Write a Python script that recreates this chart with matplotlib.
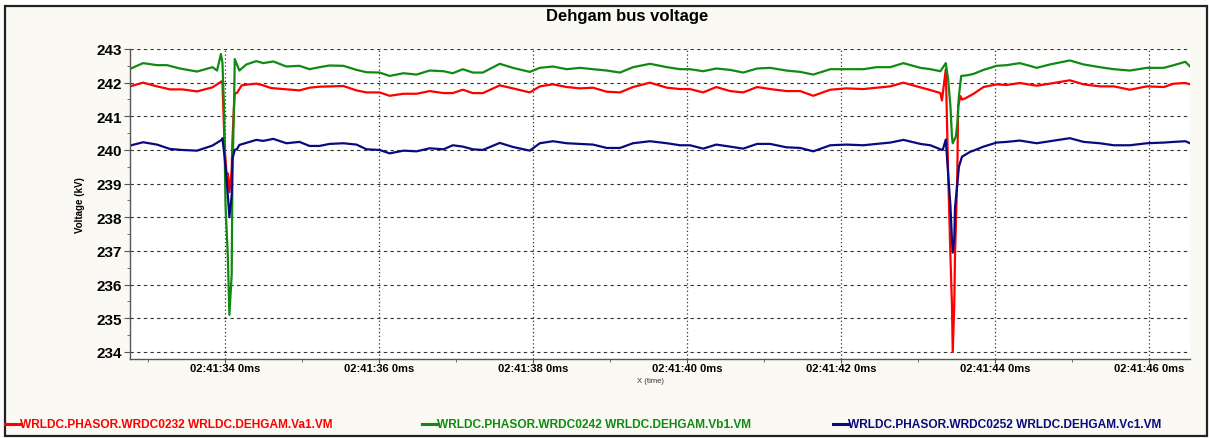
import numpy as np
import matplotlib
matplotlib.use("Agg")
import matplotlib.pyplot as plt
from matplotlib.ticker import MultipleLocator, FuncFormatter
from matplotlib.patches import Rectangle
from matplotlib.lines import Line2D

plt.rcParams['font.family'] = ['Liberation Sans', 'DejaVu Sans']

# seconds after 02:41:00, voltage in kV
t_va = [32.77, 32.94, 33.12, 33.29, 33.45, 33.64, 33.84, 33.96, 33.97, 34.00, 34.03, 34.04,
        34.06, 34.09, 34.10, 34.12, 34.13, 34.16, 34.22, 34.32, 34.41, 34.50, 34.60, 34.97,
        35.10, 35.23, 35.54, 35.71, 35.84, 36.01, 36.14, 36.32, 36.49, 36.66, 36.84, 36.96,
        37.09, 37.22, 37.35, 37.57, 37.74, 37.96, 38.09, 38.26, 38.44, 38.61, 38.78, 38.96,
        39.13, 39.30, 39.52, 39.74, 39.91, 40.04, 40.21, 40.38, 40.56, 40.73, 40.91, 41.08,
        41.29, 41.47, 41.64, 41.86, 42.07, 42.29, 42.46, 42.64, 42.81, 43.03, 43.16, 43.29,
        43.31, 43.36, 43.39, 43.42, 43.44, 43.45, 43.47, 43.48, 43.51, 43.52, 43.55, 43.57,
        43.61, 43.72, 43.85, 44.02, 44.15, 44.32, 44.54, 44.71, 44.97, 45.15, 45.36, 45.54,
        45.75, 45.97, 46.19, 46.32, 46.47, 46.53]
va = [241.89, 242.00, 241.89, 241.80, 241.80, 241.74, 241.86, 242.04, 242.00, 240.00, 239.10, 239.30,
      238.75, 239.40, 240.30, 241.30, 241.67, 241.70, 241.92, 241.95, 241.97, 241.92, 241.84, 241.77,
      241.85, 241.88, 241.90, 241.77, 241.71, 241.71, 241.61, 241.67, 241.67, 241.75, 241.69, 241.69,
      241.79, 241.69, 241.69, 241.92, 241.83, 241.71, 241.89, 241.95, 241.87, 241.83, 241.85, 241.73,
      241.71, 241.87, 242.00, 241.85, 241.81, 241.81, 241.71, 241.87, 241.75, 241.71, 241.87, 241.81,
      241.75, 241.75, 241.61, 241.79, 241.83, 241.81, 241.85, 241.89, 242.00, 241.86, 241.78, 241.69,
      241.47, 242.40, 239.35, 236.85, 235.40, 234.00, 235.40, 236.90, 239.35, 241.30, 241.60, 241.50,
      241.53, 241.67, 241.87, 241.95, 241.93, 241.99, 241.91, 241.97, 242.07, 241.95, 241.89, 241.89,
      241.79, 241.89, 241.87, 241.97, 241.99, 241.95]

t_vb = [32.77, 32.94, 33.12, 33.25, 33.42, 33.64, 33.84, 33.90, 33.95, 33.97, 33.99, 34.01,
        34.04, 34.06, 34.09, 34.10, 34.12, 34.13, 34.19, 34.28, 34.41, 34.50, 34.63, 34.80,
        34.97, 35.10, 35.23, 35.36, 35.54, 35.71, 35.84, 36.01, 36.14, 36.32, 36.49, 36.66,
        36.84, 36.96, 37.09, 37.22, 37.35, 37.57, 37.74, 37.96, 38.09, 38.26, 38.44, 38.61,
        38.78, 38.96, 39.13, 39.30, 39.52, 39.74, 39.91, 40.04, 40.21, 40.38, 40.56, 40.73,
        40.91, 41.08, 41.29, 41.47, 41.64, 41.86, 42.07, 42.29, 42.46, 42.64, 42.81, 43.03,
        43.16, 43.29, 43.36, 43.39, 43.42, 43.44, 43.45, 43.49, 43.51, 43.53, 43.56, 43.64,
        43.72, 43.85, 44.02, 44.15, 44.32, 44.45, 44.54, 44.71, 44.97, 45.15, 45.36, 45.54,
        45.75, 45.97, 46.19, 46.32, 46.47, 46.53]
vb = [242.41, 242.58, 242.52, 242.52, 242.42, 242.33, 242.46, 242.36, 242.85, 242.60, 241.30, 238.35,
      236.85, 235.10, 236.30, 239.30, 241.30, 242.70, 242.36, 242.54, 242.64, 242.58, 242.63, 242.48,
      242.50, 242.40, 242.46, 242.51, 242.50, 242.38, 242.31, 242.30, 242.20, 242.28, 242.24, 242.36,
      242.34, 242.28, 242.40, 242.30, 242.30, 242.56, 242.44, 242.32, 242.44, 242.48, 242.40, 242.44,
      242.40, 242.36, 242.30, 242.46, 242.56, 242.46, 242.40, 242.40, 242.34, 242.42, 242.38, 242.30,
      242.42, 242.44, 242.36, 242.32, 242.24, 242.40, 242.40, 242.40, 242.46, 242.46, 242.58, 242.44,
      242.40, 242.34, 242.58, 242.10, 241.30, 240.40, 240.20, 240.40, 240.80, 241.60, 242.20, 242.22,
      242.26, 242.38, 242.50, 242.52, 242.58, 242.50, 242.44, 242.54, 242.66, 242.54, 242.46, 242.40,
      242.36, 242.44, 242.44, 242.52, 242.62, 242.48]

t_vc = [32.77, 32.94, 33.12, 33.29, 33.45, 33.64, 33.84, 33.96, 33.97, 34.00, 34.03, 34.04,
        34.06, 34.09, 34.10, 34.13, 34.16, 34.19, 34.41, 34.50, 34.63, 34.80, 34.97, 35.10,
        35.23, 35.36, 35.54, 35.71, 35.84, 36.01, 36.14, 36.32, 36.49, 36.66, 36.84, 36.96,
        37.09, 37.22, 37.35, 37.57, 37.74, 37.96, 38.09, 38.26, 38.44, 38.61, 38.78, 38.96,
        39.13, 39.30, 39.52, 39.74, 39.91, 40.04, 40.21, 40.38, 40.56, 40.73, 40.91, 41.08,
        41.29, 41.47, 41.64, 41.86, 42.07, 42.29, 42.46, 42.64, 42.81, 43.03, 43.16, 43.29,
        43.32, 43.36, 43.39, 43.42, 43.44, 43.45, 43.47, 43.48, 43.51, 43.53, 43.57, 43.68,
        43.72, 43.85, 44.02, 44.15, 44.32, 44.54, 44.71, 44.97, 45.15, 45.36, 45.54, 45.75,
        45.97, 46.19, 46.32, 46.47, 46.53]
vc = [240.13, 240.23, 240.16, 240.03, 240.00, 239.98, 240.13, 240.30, 240.35, 239.75, 238.95, 238.65,
      238.00, 238.65, 239.75, 240.00, 240.03, 240.15, 240.30, 240.27, 240.33, 240.20, 240.24, 240.12,
      240.12, 240.18, 240.20, 240.16, 240.02, 240.00, 239.90, 239.98, 239.96, 240.05, 240.02, 240.14,
      240.10, 240.02, 240.00, 240.21, 240.09, 239.98, 240.20, 240.26, 240.20, 240.18, 240.16, 240.06,
      240.06, 240.20, 240.26, 240.20, 240.14, 240.14, 240.04, 240.16, 240.10, 240.04, 240.18, 240.18,
      240.08, 240.06, 239.96, 240.14, 240.16, 240.14, 240.18, 240.22, 240.30, 240.18, 240.14, 240.02,
      240.00, 240.31, 239.30, 238.35, 237.35, 236.95, 237.35, 238.30, 239.00, 239.50, 239.80, 239.95,
      239.98, 240.10, 240.22, 240.24, 240.28, 240.20, 240.26, 240.35, 240.24, 240.20, 240.14, 240.14,
      240.20, 240.22, 240.24, 240.26, 240.20]

labels = ["WRLDC.PHASOR.WRDC0232 WRLDC.DEHGAM.Va1.VM",
          "WRLDC.PHASOR.WRDC0242 WRLDC.DEHGAM.Vb1.VM",
          "WRLDC.PHASOR.WRDC0252 WRLDC.DEHGAM.Vc1.VM"]
colors = ["#FF0000", "#108A10", "#0A0A80"]

W, H = 1209, 439
fig = plt.figure(figsize=(W / 100, H / 100), dpi=100, facecolor="white")

# cream panel with dark frame, kept behind the axes
fig.patches.append(Rectangle((5 / W, 2 / H), 1202 / W, 430 / H, transform=fig.transFigure,
                             facecolor="#FBF9F4", edgecolor="#222222", linewidth=1.6, zorder=-10))

ax = fig.add_axes([130 / W, 1 - 360 / H, 1060 / W, 310 / H])
ax.set_facecolor("white")

ax.plot(t_va, va, color=colors[0], lw=1.6)
ax.plot(t_vb, vb, color=colors[1], lw=1.6)
ax.plot(t_vc, vc, color=colors[2], lw=1.6)

ax.set_xlim(32.77, 46.53)
ax.set_ylim(233.79, 243)

ax.yaxis.set_major_locator(MultipleLocator(1))
ax.yaxis.set_minor_locator(MultipleLocator(0.5))
ax.xaxis.set_major_locator(MultipleLocator(2))
ax.xaxis.set_minor_locator(MultipleLocator(1))
ax.xaxis.set_major_formatter(FuncFormatter(lambda s, p: f"02:41:{int(round(s)):02d} 0ms"))
ax.yaxis.set_major_formatter(FuncFormatter(lambda v, p: f"{int(round(v))}"))

ax.grid(axis="y", which="major", color="#333333", linestyle=(0, (3, 3)), linewidth=0.8)
ax.grid(axis="x", which="major", color="#333333", linestyle=(0, (1, 2)), linewidth=0.9)
ax.set_axisbelow(True)

for s in ["top", "right"]:
    ax.spines[s].set_visible(False)
for s in ["left", "bottom"]:
    ax.spines[s].set_color("#555555")
    ax.spines[s].set_linewidth(1.0)

ax.tick_params(axis="y", which="major", length=4, color="#555555", pad=2)
ax.tick_params(axis="y", which="minor", length=2, color="#555555")
ax.tick_params(axis="x", which="major", length=3, color="#555555", pad=0)
ax.tick_params(axis="x", which="minor", length=2, color="#555555")
for lb in ax.get_yticklabels():
    lb.set_fontsize(11)
    lb.set_fontweight("bold")
for lb in ax.get_xticklabels():
    lb.set_fontsize(8)
    lb.set_fontweight("bold")

fig.text(627 / W, 1 - 17 / H, "Dehgam bus voltage", ha="center", va="center",
         fontsize=12, fontweight="bold")
fig.text(80 / W, 1 - 205 / H, "Voltage (kV)", rotation=90, ha="center", va="center",
         fontsize=7, fontweight="bold")
fig.text(650 / W, 1 - 382 / H, "X (time)", ha="center", va="center", fontsize=5.5, color="#333333")

# legend row at the bottom
leg_x = [5, 422, 833]
for x0, lab, c in zip(leg_x, labels, colors):
    y = 1 - 425 / H
    fig.add_artist(Line2D([x0 / W, (x0 + 16) / W], [y, y], color=c, lw=2.2, transform=fig.transFigure))
    fig.text((x0 + 15) / W, y, lab, color=c, ha="left", va="center", fontsize=8.6, fontweight="bold")

fig.savefig("out.png", dpi=100, facecolor=fig.get_facecolor())
